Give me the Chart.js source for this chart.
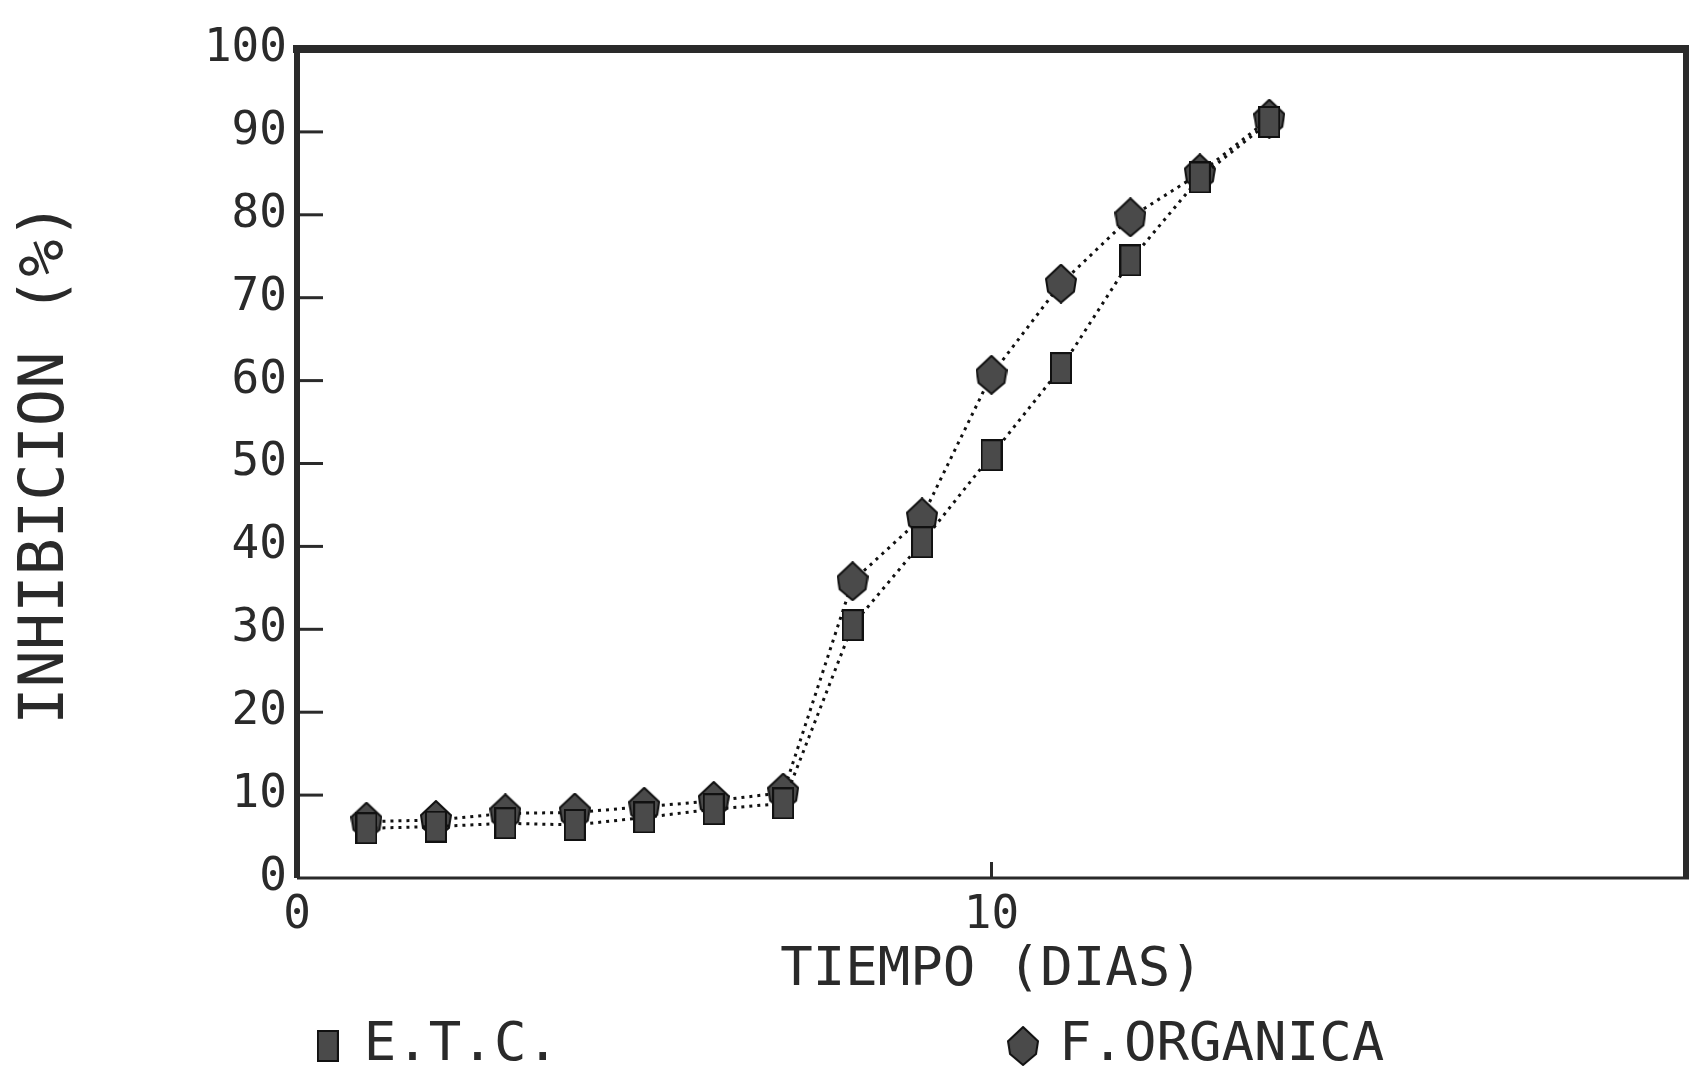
<!DOCTYPE html>
<html>
<head>
<meta charset="utf-8">
<script src="https://cdn.jsdelivr.net/npm/chart.js@4"></script>
<style>
  html, body { margin: 0; padding: 0; background: #fff; }
  #wrap { width: 1696px; height: 1069px; }
</style>
</head>
<body>
<div id="wrap"><canvas id="myChart"></canvas></div>
<script>
'use strict';
// dias y valores
const dias = [1, 2, 3, 4, 5, 6, 7, 8, 9, 10, 11, 12, 13, 14];
const etc = [6.0, 6.2, 6.6, 6.4, 7.3, 8.3, 9.0, 30.5, 40.5, 51.0, 61.5, 74.5, 84.5, 91.2];
const organica = [6.8, 7.0, 7.8, 7.9, 8.6, 9.3, 10.3, 35.8, 43.5, 60.7, 71.7, 79.7, 85.0, 91.6];
const xTicksShown = [0, 10];

const FONT = '"DejaVu Sans Mono", "Liberation Mono", monospace';
const INK = '#2a2a2a';

// marcadores: cuadrado alto y rombo alargado
function marcador(w, h, forma) {
  const c = document.createElement('canvas');
  c.width = w; c.height = h;
  const g = c.getContext('2d');
  g.fillStyle = '#4a4a4a';
  g.strokeStyle = '#111';
  g.lineWidth = 2;
  g.beginPath();
  if (forma === 'rect') {
    g.rect(1, 1, w - 2, h - 2);
  } else {
    g.moveTo(w / 2, 1);
    g.lineTo(w - 1, h * 0.38);
    g.lineTo(w - 3, h * 0.7);
    g.lineTo(w / 2, h - 1);
    g.lineTo(3, h * 0.7);
    g.lineTo(1, h * 0.38);
    g.closePath();
  }
  g.fill();
  g.stroke();
  return c;
}
const cuadro = marcador(22, 32, 'rect');
const rombo = marcador(32, 40, 'rombo');

// marco grueso y marcas de escala hacia dentro
const frame = {
  id: 'frame',
  beforeDatasetsDraw(chart) {
    const {ctx, chartArea: a, scales} = chart;
    ctx.save();
    ctx.strokeStyle = INK;
    ctx.lineWidth = 8;
    ctx.beginPath(); ctx.moveTo(a.left - 4, a.top); ctx.lineTo(a.right + 3, a.top); ctx.stroke();
    ctx.lineWidth = 6;
    ctx.beginPath(); ctx.moveTo(a.left, a.top); ctx.lineTo(a.left, a.bottom); ctx.stroke();
    ctx.beginPath(); ctx.moveTo(a.right, a.top); ctx.lineTo(a.right, a.bottom); ctx.stroke();
    ctx.lineWidth = 3;
    ctx.beginPath(); ctx.moveTo(a.left, a.bottom); ctx.lineTo(a.right + 3, a.bottom); ctx.stroke();
    for (let v = 10; v < 100; v += 10) {
      const y = scales.y.getPixelForValue(v);
      ctx.beginPath(); ctx.moveTo(a.left, y); ctx.lineTo(a.left + 26, y); ctx.stroke();
    }
    const x10 = scales.x.getPixelForValue(10);
    ctx.beginPath(); ctx.moveTo(x10, a.bottom); ctx.lineTo(x10, a.bottom - 16); ctx.stroke();
    ctx.restore();
  }
};

const data = {
  datasets: [{
    label: 'E.T.C.',
    data: dias.map((d, i) => ({x: d, y: etc[i]})),
    borderColor: '#111',
    borderWidth: 3,
    borderDash: [3, 5],
    pointStyle: cuadro,
    pointRadius: 14,
    tension: 0
  }, {
    label: 'F.ORGANICA',
    data: dias.map((d, i) => ({x: d, y: organica[i]})),
    borderColor: '#111',
    borderWidth: 3,
    borderDash: [3, 5],
    pointStyle: rombo,
    pointRadius: 18,
    tension: 0
  }]
};

const config = {
  type: 'line',
  data: data,
  plugins: [frame],
  options: {
    responsive: true,
    maintainAspectRatio: false,
    animation: false,
    layout: { autoPadding: false, padding: { top: 49, right: 3, left: 10, bottom: -14 } },
    plugins: {
      tooltip: { enabled: false },
      legend: {
        position: 'bottom',
        labels: {
          usePointStyle: true,
          boxWidth: 18,
          boxHeight: 18,
          padding: 0,
          color: INK,
          font: { family: FONT, size: 54 },
          generateLabels: (chart) => {
            const items = Chart.defaults.plugins.legend.labels.generateLabels(chart);
            // separa las dos entradas como en el original
            items[0].text = items[0].text + ' '.repeat(14);
            return items;
          }
        }
      }
    },
    scales: {
      x: {
        type: 'linear',
        min: 0,
        max: 20,
        grid: { display: false, drawTicks: false },
        border: { display: false },
        ticks: {
          stepSize: 10,
          padding: 10,
          color: INK,
          font: { family: FONT, size: 46 },
          maxRotation: 0,
          callback: (v) => xTicksShown.includes(v) ? String(v) : ''
        },
        title: {
          display: true,
          text: 'TIEMPO (DIAS)',
          color: INK,
          padding: { top: -15, bottom: 16 },
          font: { family: FONT, size: 54 }
        }
      },
      y: {
        min: 0,
        max: 100,
        grid: { display: false, drawTicks: false },
        border: { display: false },
        afterFit: (scale) => { scale.width = 287; },
        ticks: {
          stepSize: 10,
          padding: 10,
          color: INK,
          font: { family: FONT, size: 46 }
        },
        title: {
          display: true,
          text: 'INHIBICION (%)',
          color: INK,
          padding: { top: 0, bottom: 0 },
          font: { family: FONT, size: 62 }
        }
      }
    }
  }
};

const myChart = new Chart(document.getElementById('myChart'), config);
</script>
</body>
</html>
